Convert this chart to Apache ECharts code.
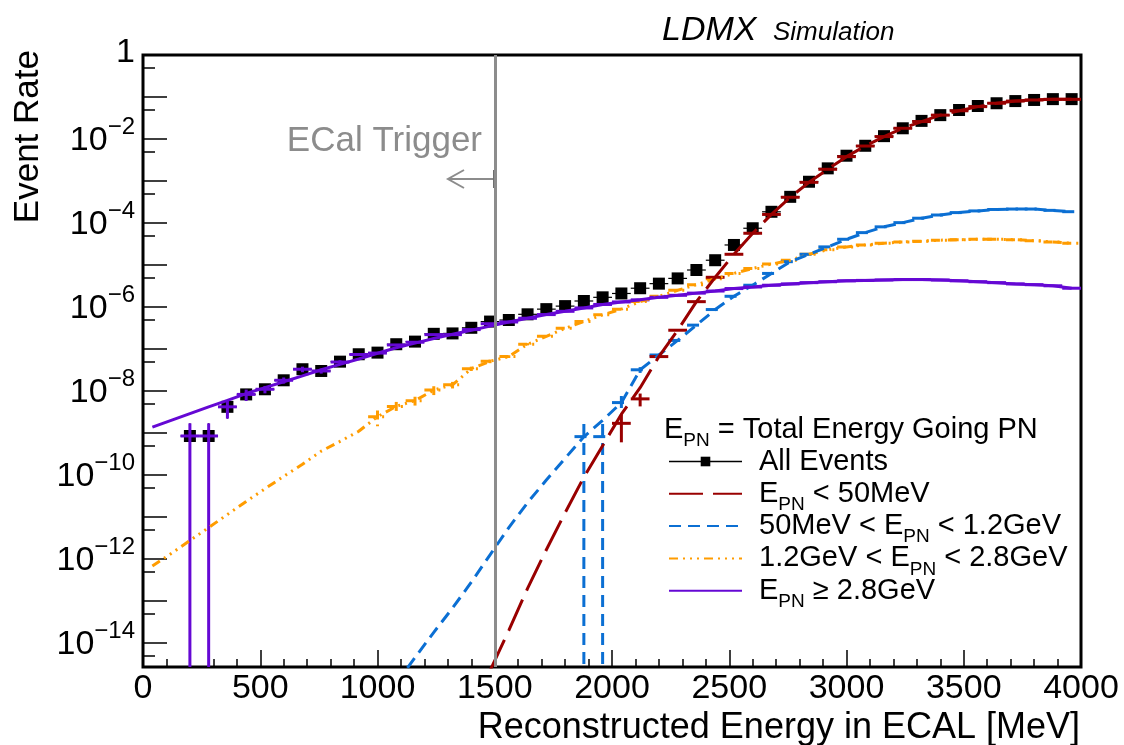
<!DOCTYPE html>
<html>
<head>
<meta charset="utf-8">
<title>LDMX Simulation - Event Rate vs reconstructed ECAL energy</title>
<script src="https://cdn.jsdelivr.net/npm/echarts@6/dist/echarts.min.js"></script>
<style>
  html, body { margin: 0; padding: 0; background: #fff; }
  #chart { width: 1124px; height: 745px; }
</style>
</head>
<body>
<div id="chart"></div>
<script>
// 50 bins of 80 MeV between 0 and 4000 MeV
const BIN_WIDTH = 80;
const binCenters = Array.from({ length: 50 }, (_, i) => BIN_WIDTH / 2 + i * BIN_WIDTH);

// axis ticks
const yMin = 2.685e-15;
const yMax = 1;
const yLabelTicks = [1, 1e-2, 1e-4, 1e-6, 1e-8, 1e-10, 1e-12, 1e-14];
const yMajorTicks = [1, 1e-1, 1e-2, 1e-3, 1e-4, 1e-5, 1e-6, 1e-7, 1e-8, 1e-9, 1e-10, 1e-11, 1e-12, 1e-13, 1e-14];
const yMinorTicks = [5e-1, 5e-2, 5e-3, 5e-4, 5e-5, 5e-6, 5e-7, 5e-8, 5e-9, 5e-10, 5e-11, 5e-12, 5e-13, 5e-14, 5e-15];
const triggerEnergy = 1500;

// All Events (black squares)
const allEvents = [
  null, null, 8.5e-10, 8.5e-10, 4.2e-9, 8.3e-9, 1.1e-8, 1.8e-8, 3.3e-8, 3.0e-8,
  5.0e-8, 7.5e-8, 8.2e-8, 1.3e-7, 1.5e-7, 2.3e-7, 2.35e-7, 3.2e-7, 4.5e-7, 4.9e-7,
  6.7e-7, 8.9e-7, 1.05e-6, 1.39e-6, 1.7e-6, 2.1e-6, 2.8e-6, 3.6e-6, 4.8e-6, 7.6e-6,
  1.3e-5, 3.0e-5, 7.5e-5, 1.85e-4, 4.2e-4, 9.6e-4, 2.0e-3, 4.0e-3, 6.9e-3, 1.17e-2,
  1.8e-2, 2.7e-2, 3.7e-2, 4.9e-2, 6.1e-2, 7.1e-2, 8.0e-2, 8.5e-2, 8.9e-2, 8.9e-2
];
const allEventsErr = [
  0, 0, 8.5e-10, 8.5e-10, 2e-9, 2.5e-9, 2.2e-9, 3e-9, 5e-9, 4e-9,
  5e-9, 6e-9, 6e-9, 8e-9, 9e-9, 1.1e-8, 1.1e-8, 1.3e-8, 1.5e-8, 0,
  0, 0, 0, 0, 0, 0, 0, 0, 0, 0,
  0, 0, 0, 0, 0, 0, 0, 0, 0, 0,
  0, 0, 0, 0, 0, 0, 0, 0, 0, 0
];

// E_PN < 50 MeV
const redHist = [
  null, null, null, null, null, null, null, null, null, null,
  null, null, null, null, null, null, null, null, null, null,
  null, null, null, null, null, 1.7e-9, 6.5e-9, 6.6e-8, 2.8e-7, 1.34e-6,
  5.1e-6, 1.8e-5, 5.7e-5, 1.6e-4, 4.1e-4, 9.3e-4, 1.9e-3, 3.8e-3, 6.8e-3, 1.14e-2,
  1.8e-2, 2.6e-2, 3.7e-2, 4.7e-2, 5.9e-2, 7.1e-2, 8.0e-2, 8.5e-2, 8.8e-2, 8.8e-2
];
const redErr = [
  0, 0, 0, 0, 0, 0, 0, 0, 0, 0,
  0, 0, 0, 0, 0, 0, 0, 0, 0, 0,
  0, 0, 0, 0, 0, 1.1e-9, 2.2e-9, 0, 0, 0,
  0, 0, 0, 0, 0, 0, 0, 0, 0, 0,
  0, 0, 0, 0, 0, 0, 0, 0, 0, 0
];
const redCurve = [
  null, null, null, null, null, null, null, null, null, null,
  null, null, null, null, null, null, null, null, 2.2e-15, 2.0e-14,
  2.0e-13, 1.66e-12, 1.26e-11, 8.9e-11, 5.0e-10, 2.8e-9, 1.2e-8, 6.6e-8, 2.8e-7, 1.34e-6,
  5.1e-6, 1.8e-5, 5.7e-5, 1.6e-4, 4.1e-4, 9.3e-4, 1.9e-3, 3.8e-3, 6.8e-3, 1.14e-2,
  1.8e-2, 2.6e-2, 3.7e-2, 4.7e-2, 5.9e-2, 7.1e-2, 8.0e-2, 8.5e-2, 8.8e-2, 8.8e-2
];

// 50 MeV < E_PN < 1.2 GeV
const blueHist = [
  null, null, null, null, null, null, null, null, null, null,
  null, null, null, null, null, null, null, null, null, null,
  null, null, null, 8.2e-10, 8.2e-10, 5.3e-9, 3.2e-8, 7.2e-8, 1.6e-7, 3.7e-7,
  8.7e-7, 1.8e-6, 3.3e-6, 6.3e-6, 1.2e-5, 1.8e-5, 2.7e-5, 4.1e-5, 5.9e-5, 8.1e-5,
  1.02e-4, 1.3e-4, 1.55e-4, 1.77e-4, 1.94e-4, 2.1e-4, 2.15e-4, 2.15e-4, 2.0e-4, 1.86e-4
];
const blueErr = [
  0, 0, 0, 0, 0, 0, 0, 0, 0, 0,
  0, 0, 0, 0, 0, 0, 0, 0, 0, 0,
  0, 0, 0, 8.2e-10, 8.2e-10, 2.3e-9, 5e-9, 0, 0, 0,
  0, 0, 0, 0, 0, 0, 0, 0, 0, 0,
  0, 0, 0, 0, 0, 0, 0, 0, 0, 0
];
const blueCurve = [
  null, null, null, null, null, null, null, null, null, null,
  null, null, null, 1.1e-15, 4.5e-15, 1.8e-14, 6.8e-14, 2.8e-13, 1.26e-12, 5.6e-12,
  2.2e-11, 7.6e-11, 2.5e-10, 8.1e-10, 2.0e-9, 5.3e-9, 3.2e-8, 7.2e-8, 1.6e-7, 3.7e-7,
  8.7e-7, 1.8e-6, 3.3e-6, 6.3e-6, 1.2e-5, 1.8e-5, 2.7e-5, 4.1e-5, 5.9e-5, 8.1e-5,
  1.02e-4, 1.3e-4, 1.55e-4, 1.77e-4, 1.94e-4, 2.1e-4, 2.15e-4, 2.15e-4, 2.0e-4, 1.86e-4
];

// 1.2 GeV < E_PN < 2.8 GeV
const orangeHist = [
  null, null, null, null, null, null, null, null, null, null,
  null, null, 2.45e-9, 4.3e-9, 5.9e-9, 1.05e-8, 1.4e-8, 3.4e-8, 5.1e-8, 6.6e-8,
  1.3e-7, 2.0e-7, 3.1e-7, 4.5e-7, 6.5e-7, 8.9e-7, 1.35e-6, 1.8e-6, 2.5e-6, 3.4e-6,
  4.7e-6, 6.3e-6, 8.3e-6, 1.05e-5, 1.3e-5, 1.8e-5, 2.3e-5, 2.7e-5, 3.0e-5, 3.3e-5,
  3.55e-5, 3.7e-5, 3.9e-5, 4.0e-5, 4.1e-5, 4.1e-5, 4.0e-5, 3.8e-5, 3.55e-5, 3.3e-5
];
const orangeErr = [
  0, 0, 0, 0, 0, 0, 0, 0, 0, 0,
  0, 0, 1.0e-9, 1.2e-9, 1.4e-9, 2.5e-9, 2.5e-9, 4e-9, 5e-9, 5e-9,
  8e-9, 0, 0, 0, 0, 0, 0, 0, 0, 0,
  0, 0, 0, 0, 0, 0, 0, 0, 0, 0,
  0, 0, 0, 0, 0, 0, 0, 0, 0, 0
];
const orangeCurve = [
  6.8e-13, 1.35e-12, 2.75e-12, 5.6e-12, 1.15e-11, 2.35e-11, 4.7e-11, 9.3e-11, 1.8e-10, 3.7e-10,
  6.3e-10, 1.1e-9, 2.45e-9, 4.3e-9, 5.9e-9, 1.05e-8, 1.4e-8, 3.4e-8, 5.1e-8, 6.6e-8,
  1.3e-7, 2.0e-7, 3.1e-7, 4.5e-7, 6.5e-7, 8.9e-7, 1.35e-6, 1.8e-6, 2.5e-6, 3.4e-6,
  4.7e-6, 6.3e-6, 8.3e-6, 1.05e-5, 1.3e-5, 1.8e-5, 2.3e-5, 2.7e-5, 3.0e-5, 3.3e-5,
  3.55e-5, 3.7e-5, 3.9e-5, 4.0e-5, 4.1e-5, 4.1e-5, 4.0e-5, 3.8e-5, 3.55e-5, 3.3e-5
];

// E_PN >= 2.8 GeV
const purpleHist = [
  null, null, 8.5e-10, 8.5e-10, 4.2e-9, 8.3e-9, 1.1e-8, 1.8e-8, 3.3e-8, 3.0e-8,
  4.9e-8, 7.4e-8, 8.0e-8, 1.25e-7, 1.45e-7, 2.2e-7, 2.2e-7, 2.9e-7, 4.0e-7, 4.4e-7,
  5.4e-7, 6.6e-7, 7.9e-7, 9.5e-7, 1.15e-6, 1.32e-6, 1.48e-6, 1.7e-6, 1.9e-6, 2.14e-6,
  2.4e-6, 2.75e-6, 3.0e-6, 3.3e-6, 3.55e-6, 3.8e-6, 4.0e-6, 4.2e-6, 4.3e-6, 4.4e-6,
  4.5e-6, 4.5e-6, 4.4e-6, 4.2e-6, 4.0e-6, 3.8e-6, 3.55e-6, 3.4e-6, 3.2e-6, 2.8e-6
];
const purpleErr = [
  0, 0, 8.5e-10, 8.5e-10, 2e-9, 2.5e-9, 2.2e-9, 3e-9, 5e-9, 4e-9,
  5e-9, 0, 0, 0, 0, 0, 0, 0, 0, 0,
  0, 0, 0, 0, 0, 0, 0, 0, 0, 0,
  0, 0, 0, 0, 0, 0, 0, 0, 0, 0,
  0, 0, 0, 0, 0, 0, 0, 0, 0, 0
];
const purpleCurve = [
  1.38e-9, 2.0e-9, 2.9e-9, 4.2e-9, 6.0e-9, 8.7e-9, 1.2e-8, 1.66e-8, 2.3e-8, 3.2e-8,
  4.3e-8, 5.8e-8, 7.9e-8, 1.07e-7, 1.38e-7, 1.78e-7, 2.24e-7, 2.8e-7, 3.5e-7, 4.4e-7,
  5.4e-7, 6.6e-7, 7.9e-7, 9.5e-7, 1.15e-6, 1.32e-6, 1.48e-6, 1.7e-6, 1.9e-6, 2.14e-6,
  2.4e-6, 2.75e-6, 3.0e-6, 3.3e-6, 3.55e-6, 3.8e-6, 4.0e-6, 4.2e-6, 4.3e-6, 4.4e-6,
  4.5e-6, 4.5e-6, 4.4e-6, 4.2e-6, 4.0e-6, 3.8e-6, 3.55e-6, 3.4e-6, 3.2e-6, 2.8e-6
];

const FONT = 'Liberation Sans';
const GRAY = '#8c8c8c';
const LINE_W = 3;

const NAME_ALL = 'All Events';
const NAME_RED = 'E_PN < 50MeV';
const NAME_BLUE = '50MeV < E_PN < 1.2GeV';
const NAME_ORANGE = '1.2GeV < E_PN < 2.8GeV';
const NAME_PURPLE = 'E_PN >= 2.8GeV';

// every row gets a subscript token so all rows have the same height
const legendText = {
  [NAME_ALL]: '{t|All Events}{s| }',
  [NAME_RED]: '{t|E}{s|PN}{t| < 50MeV}',
  [NAME_BLUE]: '{t|50MeV < E}{s|PN}{t| < 1.2GeV}',
  [NAME_ORANGE]: '{t|1.2GeV < E}{s|PN}{t| < 2.8GeV}',
  [NAME_PURPLE]: '{t|E}{s|PN}{t| \u2265 2.8GeV}'
};

// text with subscripts (color for echarts, fill for raw graphic)
const subRich = {
  t: { fontSize: 29, lineHeight: 29, verticalAlign: 'top', fontFamily: FONT, color: '#000', fill: '#000' },
  s: { fontSize: 19, lineHeight: 19, verticalAlign: 'top', padding: [16, 0, 0, 0], fontFamily: FONT, color: '#000', fill: '#000' }
};

function toPoints(values) {
  return binCenters.map((c, i) => values[i] == null ? null : [c, values[i]]).filter(p => p);
}
function toBins(values, errs) {
  return binCenters.map((c, i) => values[i] == null ? null : [c, values[i], errs[i]]).filter(p => p);
}

function curveSeries(name, values, color, dash) {
  return {
    name: name,
    type: 'line',
    data: toPoints(values),
    symbol: 'none',
    lineStyle: { color: color, width: LINE_W, type: dash || 'solid', cap: 'butt' },
    itemStyle: { color: color },
    clip: true,
    silent: true,
    z: 4
  };
}

// horizontal bar across the bin plus vertical error bar, like ROOT "E"
function binSeries(name, values, errs, color, width, dash, z) {
  return {
    name: name,
    type: 'custom',
    data: toBins(values, errs),
    clip: true,
    silent: true,
    z: z,
    renderItem: function (params, api) {
      const c = api.value(0), v = api.value(1), e = api.value(2);
      const a = api.coord([c - BIN_WIDTH / 2, v]);
      const b = api.coord([c + BIN_WIDTH / 2, v]);
      const style = { stroke: color, lineWidth: width, lineDash: dash || null, fill: null };
      const kids = [{ type: 'line', shape: { x1: a[0], y1: a[1], x2: b[0], y2: b[1] }, style: style }];
      if (e > 0) {
        const top = api.coord([c, v + e]);
        const bot = api.coord([c, Math.max(v - e, yMin)]);
        kids.push({ type: 'line', shape: { x1: top[0], y1: top[1], x2: bot[0], y2: bot[1] }, style: style });
      }
      return { type: 'group', children: kids };
    }
  };
}

const RED = '#990000', BLUE = '#0b6fd3', ORANGE = '#ff9c00', PURPLE = '#6508d4';
const DASH_RED = [34, 10];
const DASH_BLUE = [12, 7];
const DASH_ORANGE = [9, 5, 2, 5, 2, 5, 2, 5];

const chart = echarts.init(document.getElementById('chart'), null, { renderer: 'canvas' });

const option = {
  animation: false,
  backgroundColor: '#fff',
  textStyle: { fontFamily: FONT },
  grid: {
    left: 143, top: 55, width: 938, height: 612,
    show: true, borderColor: '#000', borderWidth: 3, backgroundColor: 'transparent',
    outerBoundsMode: 'none'
  },
  xAxis: {
    type: 'value', min: 0, max: 4000, interval: 500,
    axisLine: { show: false },
    axisTick: { show: true, inside: true, length: 17, lineStyle: { color: '#000', width: 1.5 } },
    minorTick: { show: true, splitNumber: 5, length: 8, lineStyle: { color: '#000', width: 1.5 } },
    splitLine: { show: false },
    axisLabel: { color: '#000', fontSize: 34, fontFamily: FONT, margin: 5, formatter: v => String(v) }
  },
  yAxis: [
    {
      type: 'log', logBase: 10, min: yMin, max: yMax, position: 'left',
      axisLine: { show: false },
      splitLine: { show: false },
      axisTick: { show: true, inside: true, length: 24, customValues: yMajorTicks, lineStyle: { color: '#000', width: 1.5 } },
      axisLabel: {
        customValues: yLabelTicks,
        margin: 8,
        padding: [0, 0, 5, 0],
        formatter: function (v) {
          const p = Math.round(Math.log10(v));
          return p === 0 ? '{one|1}' : '{ten|10}{sup|\u2212' + (-p) + '}';
        },
        rich: {
          one: { fontSize: 34, fontFamily: FONT, color: '#000' },
          ten: { fontSize: 34, fontFamily: FONT, color: '#000', verticalAlign: 'top', padding: [9, 0, 0, 0] },
          sup: { fontSize: 24, fontFamily: FONT, color: '#000', verticalAlign: 'top' }
        }
      }
    },
    {
      type: 'log', logBase: 10, min: yMin, max: yMax, position: 'left',
      axisLine: { show: false },
      splitLine: { show: false },
      axisLabel: { show: false },
      axisTick: { show: true, inside: true, length: 12, customValues: yMinorTicks, lineStyle: { color: '#000', width: 1.5 } }
    }
  ],
  legend: {
    orient: 'vertical',
    left: 663, top: 442,
    itemWidth: 73, itemHeight: 12, itemGap: -2.7,
    selectedMode: false,
    formatter: name => legendText[name],
    textStyle: { fontFamily: FONT, fontSize: 29, color: '#000', padding: [0, 0, 0, 12], rich: subRich },
    data: [
      { name: NAME_ALL, lineStyle: { width: 1.3, color: '#000', type: 'solid', opacity: 1 } },
      { name: NAME_RED, itemStyle: { opacity: 0 } },
      { name: NAME_BLUE, itemStyle: { opacity: 0 } },
      { name: NAME_ORANGE, itemStyle: { opacity: 0 } },
      { name: NAME_PURPLE, itemStyle: { opacity: 0 } }
    ]
  },
  graphic: [
    { type: 'text', x: 28, y: 50, rotation: Math.PI / 2,
      style: { text: 'Event Rate', fontSize: 35, fontFamily: FONT, fill: '#000', align: 'right', verticalAlign: 'middle' } },
    { type: 'text', x: 1080, y: 728,
      style: { text: 'Reconstructed Energy in ECAL [MeV]', fontSize: 36, fontFamily: FONT, fill: '#000', align: 'right', verticalAlign: 'middle' } },
    { type: 'text', x: 662, y: 31,
      style: { text: 'LDMX', fontSize: 34, fontStyle: 'italic', fontFamily: FONT, fill: '#000', align: 'left', verticalAlign: 'middle' } },
    { type: 'text', x: 773, y: 33,
      style: { text: 'Simulation', fontSize: 26, fontStyle: 'italic', fontFamily: FONT, fill: '#000', align: 'left', verticalAlign: 'middle' } },
    { type: 'text', x: 482, y: 141,
      style: { text: 'ECal Trigger', fontSize: 35, fontFamily: FONT, fill: GRAY, align: 'right', verticalAlign: 'middle' } },
    { type: 'polyline', shape: { points: [[494, 179], [448, 179]] }, style: { stroke: GRAY, lineWidth: 2, fill: null } },
    { type: 'polyline', shape: { points: [[464, 170], [448, 179], [464, 188]] }, style: { stroke: GRAY, lineWidth: 2, fill: null } },
    { type: 'polyline', shape: { points: [[494, 170], [494, 188]] }, style: { stroke: '#6e6e6e', lineWidth: 2, fill: null } },
    { type: 'text', x: 664, y: 430,
      style: { text: '{t|E}{s|PN}{t| = Total Energy Going PN}', rich: subRich, align: 'left', verticalAlign: 'middle' } }
  ],
  series: [
    binSeries('all-bins', allEvents, allEventsErr, '#000', 1.2, null, 2),
    {
      name: NAME_ALL,
      type: 'line',
      data: toPoints(allEvents),
      symbol: 'rect',
      symbolSize: 12,
      lineStyle: { width: 0, color: '#000' },
      itemStyle: { color: '#000' },
      silent: true,
      z: 3,
      markLine: {
        silent: true, symbol: 'none', label: { show: false },
        lineStyle: { color: GRAY, width: 3, type: 'solid' },
        data: [{ xAxis: triggerEnergy }]
      }
    },
    curveSeries(NAME_ORANGE, orangeCurve, ORANGE, DASH_ORANGE),
    binSeries('orange-bins', orangeHist, orangeErr, ORANGE, LINE_W, DASH_ORANGE, 4),
    curveSeries(NAME_BLUE, blueCurve, BLUE, DASH_BLUE),
    binSeries('blue-bins', blueHist, blueErr, BLUE, LINE_W, DASH_BLUE, 4),
    curveSeries(NAME_PURPLE, purpleCurve, PURPLE, null),
    binSeries('purple-bins', purpleHist, purpleErr, PURPLE, LINE_W, null, 4),
    curveSeries(NAME_RED, redCurve, RED, DASH_RED),
    binSeries('red-bins', redHist, redErr, RED, LINE_W, DASH_RED, 4)
  ]
};

chart.setOption(option);
</script>
</body>
</html>
